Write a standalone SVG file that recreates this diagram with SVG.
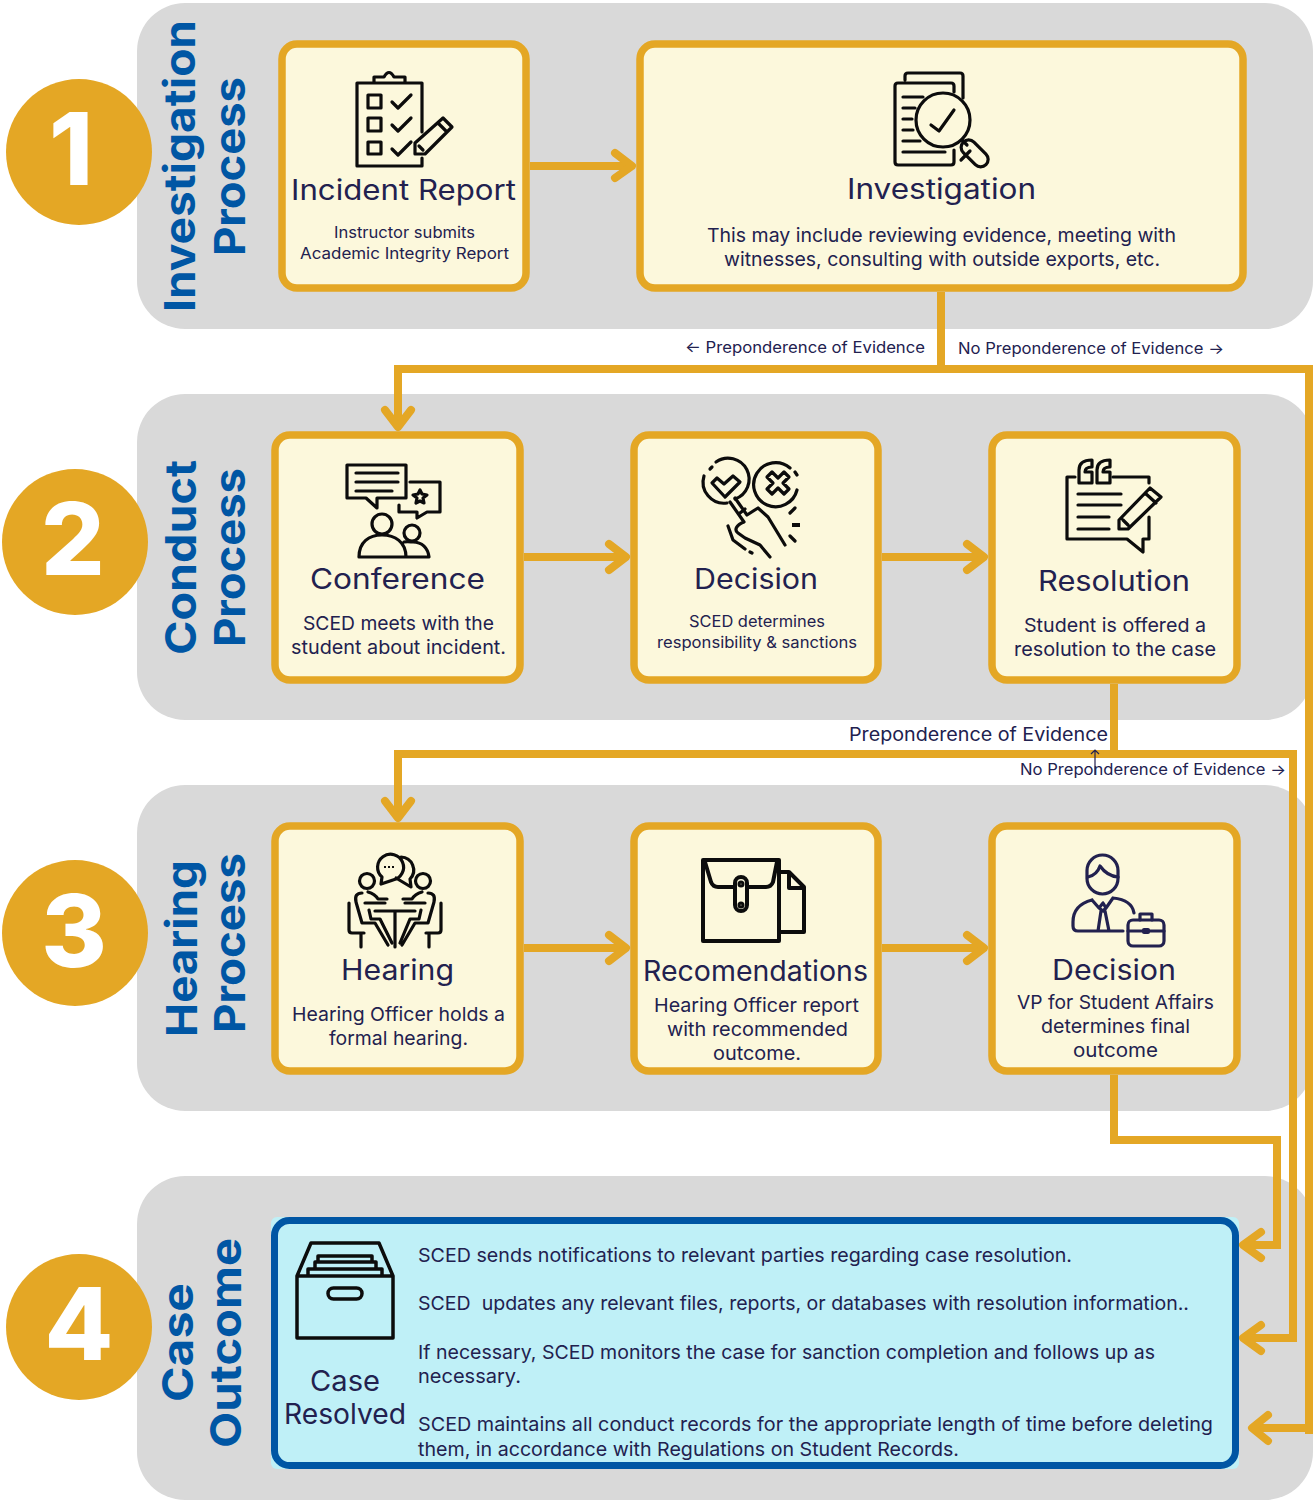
<svg xmlns="http://www.w3.org/2000/svg" width="1313" height="1500" viewBox="0 0 1313 1500">
<style>
text{font-family:Inter,"Open Sans","DejaVu Sans",sans-serif;fill:#22214f}
.t{font-size:28px;font-weight:400}
.s{font-size:16px}
.b{font-size:19px}
.l{font-size:15.5px}
.h{font-size:43px;font-weight:700;fill:#0056a4}
.d{font-size:100px;font-weight:800;fill:#fff;text-anchor:middle}
.panel{fill:#d9d9d9}
.c{fill:#e4a725}
.box{fill:#fcf8dc;stroke:#e4a725;stroke-width:7.5}
.wire{fill:none;stroke:#e4a725;stroke-width:8;stroke-linejoin:miter}
.head{fill:none;stroke:#e4a725;stroke-width:8;stroke-linecap:round;stroke-linejoin:round}
.i{fill:none;stroke:#0c0c0c;stroke-width:3.2;stroke-linejoin:round;stroke-linecap:round}
.n{fill:none;stroke:#22214f;stroke-width:3.2;stroke-linejoin:round;stroke-linecap:round}
.thin{fill:none;stroke:#22214f;stroke-width:1.2}
</style>
<g id="panels">
<rect class="panel" x="137" y="3" width="1176" height="326" rx="48"/>
<rect class="panel" x="137" y="394" width="1176" height="326" rx="48"/>
<rect class="panel" x="137" y="785" width="1176" height="326" rx="48"/>
<rect class="panel" x="137" y="1176" width="1176" height="324" rx="48"/>
</g>
<g id="step-1"><circle class="c" cx="79" cy="152" r="73"/><text class="d" x="71" y="185">1</text>
<text class="h" transform="translate(195,312) rotate(-90)" textLength="292" lengthAdjust="spacingAndGlyphs">Investigation</text>
<text class="h" transform="translate(245,256) rotate(-90)" textLength="179" lengthAdjust="spacingAndGlyphs">Process</text></g>
<g id="step-2"><circle class="c" cx="75" cy="542" r="73"/><text class="d" x="73" y="575">2</text>
<text class="h" transform="translate(196,655) rotate(-90)" textLength="195" lengthAdjust="spacingAndGlyphs">Conduct</text>
<text class="h" transform="translate(245,647) rotate(-90)" textLength="179" lengthAdjust="spacingAndGlyphs">Process</text></g>
<g id="step-3"><circle class="c" cx="75" cy="933" r="73"/><text class="d" x="74" y="967">3</text>
<text class="h" transform="translate(197,1037) rotate(-90)" textLength="177" lengthAdjust="spacingAndGlyphs">Hearing</text>
<text class="h" transform="translate(245,1033) rotate(-90)" textLength="180" lengthAdjust="spacingAndGlyphs">Process</text></g>
<g id="step-4"><circle class="c" cx="79" cy="1327" r="73"/><text class="d" x="79" y="1360">4</text>
<text class="h" transform="translate(193,1402) rotate(-90)" textLength="119" lengthAdjust="spacingAndGlyphs">Case</text>
<text class="h" transform="translate(241,1448) rotate(-90)" textLength="210" lengthAdjust="spacingAndGlyphs">Outcome</text></g>

<g id="connectors">
<path class="wire" d="M530 166H632"/><path class="head" d="M615 153L632 166L615 178"/>
<path class="wire" d="M941 292V369"/>
<path class="wire" d="M398 427V369H1309V1434"/><path class="head" d="M385 410L398 427L411 410"/>
<path class="wire" d="M524 557H626"/><path class="head" d="M609 544L626 557L609 570"/>
<path class="wire" d="M882 557H984"/><path class="head" d="M967 544L984 557L967 570"/>
<path class="wire" d="M1114 684V754"/>
<path class="wire" d="M398 818V754H1293V1338H1243"/><path class="head" d="M385 801L398 818L411 801"/>
<path class="head" d="M1261 1325L1243 1338L1261 1351"/>
<path class="wire" d="M524 948H626"/><path class="head" d="M609 935L626 948L609 961"/>
<path class="wire" d="M882 948H984"/><path class="head" d="M967 935L984 948L967 961"/>
<path class="wire" d="M1114 1075V1140H1277V1245H1243"/><path class="head" d="M1261 1232L1243 1245L1261 1258"/>
<path class="wire" d="M1309 1428H1253"/><path class="head" d="M1268 1415L1252 1428L1268 1441"/>
<path class="thin" d="M1095 775V750M1091 754L1095 750L1099 754"/>
<text class="l" x="685" y="353" textLength="240" lengthAdjust="spacingAndGlyphs">← Preponderence of Evidence</text>
<text class="l" x="958" y="354" textLength="266" lengthAdjust="spacingAndGlyphs">No Preponderence of Evidence →</text>
<text x="849" y="741" style="font-size:18.5px" textLength="259" lengthAdjust="spacingAndGlyphs">Preponderence of Evidence</text>
<text class="l" x="1020" y="775" textLength="266" lengthAdjust="spacingAndGlyphs">No Preponderence of Evidence →</text>
</g>

<g id="incident-report"><rect class="box" x="282" y="44" width="244" height="244" rx="15"/>
<path class="i" d="M374 83H357V166H422V158M422 132V83H405M374 83V77H384Q389 68 394 77H405V83ZM374 83H405"/>
<path class="i" d="M368 95h13v13h-13zM368 118h13v13h-13zM368 142h13v12h-13zM392 102l6 6l13-13M392 125l6 6l13-13M392 149l6 6l13-13"/>
<path class="i" d="M415 154V143L443 118L452 127L425 154ZM438 123L447 132M419 146L423 150"/>
<text class="t" x="291" y="200" textLength="225" lengthAdjust="spacingAndGlyphs">Incident Report</text>
<text class="s" x="334" y="238" textLength="141" lengthAdjust="spacingAndGlyphs">Instructor submits</text>
<text class="s" x="300" y="259" textLength="209" lengthAdjust="spacingAndGlyphs">Academic Integrity Report</text></g>

<g id="investigation"><rect class="box" x="640" y="44" width="603" height="244" rx="15"/>
<path class="i" d="M905 80V76Q905 73 908 73H960Q963 73 963 76V98M916 83H898Q895 83 895 86V162Q895 165 898 165H951Q954 165 954 162V150M954 92V86Q954 83 951 83H916"/>
<path class="i" d="M903 97H923M903 108H915M903 119H912M903 130H913M903 141H920M903 152H945"/>
<circle class="i" cx="943" cy="120" r="27"/><path class="i" d="M931 125L939 131L954 110M962 140L967 145"/>
<rect class="i" x="959" y="146" width="32" height="15" rx="7.5" transform="rotate(45 975 153)"/><path class="i" d="M970 151L961 160"/>
<text class="t" x="847" y="199" textLength="189" lengthAdjust="spacingAndGlyphs">Investigation</text>
<text class="b" x="707" y="242" textLength="469" lengthAdjust="spacingAndGlyphs">This may include reviewing evidence, meeting with</text>
<text class="b" x="724" y="266" textLength="436" lengthAdjust="spacingAndGlyphs">witnesses, consulting with outside exports, etc.</text></g>

<g id="conference"><rect class="box" x="275" y="435" width="245" height="245" rx="15"/>
<path class="i" d="M347 465H406V498H377V508L366 498H347ZM356 473H398M356 482H398M356 491H392"/>
<path class="i" d="M410 482H440V512H427L417 518V512H399V505"/>
<path class="i" d="M420 490L422 494L427 495L423 498L424 503L420 501L416 503L417 498L413 495L418 494Z"/>
<circle class="i" cx="382" cy="524" r="10"/><circle class="i" cx="412" cy="533" r="8"/>
<path class="i" d="M359 557H429M359 557C359 542 369 535 382 535C395 535 406 542 406 557M404 542C408 541 411 542 413 542C422 542 428 548 429 557"/>
<text class="t" x="310" y="589" textLength="175" lengthAdjust="spacingAndGlyphs">Conference</text>
<text class="b" x="303" y="630" textLength="191" lengthAdjust="spacingAndGlyphs">SCED meets with the</text>
<text class="b" x="291" y="654" textLength="215" lengthAdjust="spacingAndGlyphs">student about incident.</text></g>

<g id="decision-1"><rect class="box" x="634" y="435" width="244" height="245" rx="15"/>
<path class="i" d="M716 462A21 21 0 1 1 735 499M727 503A21 21 0 0 1 704 476M710 469L712 467"/>
<path class="i" d="M712 483L717 478L724 484L733 476L740 482L725 497Z"/>
<path class="i" d="M797 490A22 22 0 1 1 790 468M795 472L797 475"/>
<path class="i" d="M772 472L778 478L784 472L789 477L783 483L789 489L784 494L778 488L772 494L767 489L773 483L767 477Z"/>
<path class="i" d="M735 498L747 515L758 508L768 517L785 545M730 502L744 522C736 525 734 530 738 533L745 538L760 545L770 557M728 526L733 540L745 549M750 552L752 553M795 508L790 513M790 536L795 541M740 513L745 509"/>
<path d="M792 523H800V527H792Z" fill="#0c0c0c"/>
<text class="t" x="694" y="589" textLength="124" lengthAdjust="spacingAndGlyphs">Decision</text>
<text class="s" x="689" y="627" textLength="136" lengthAdjust="spacingAndGlyphs">SCED determines</text>
<text class="s" x="657" y="648" textLength="200" lengthAdjust="spacingAndGlyphs">responsibility &amp; sanctions</text></g>

<g id="resolution"><rect class="box" x="992" y="435" width="245" height="245" rx="15"/>
<path class="i" d="M1075 477H1067V539H1127L1143 552V539H1149V517M1113 477H1149V483"/>
<path class="i" d="M1092 460V467Q1085 467 1085 472H1092V483H1079V470Q1079 460 1092 460ZM1110 460V467Q1103 467 1103 472H1110V483H1097V470Q1097 460 1110 460Z"/>
<path class="i" d="M1078 494H1121M1078 505H1121M1078 517H1109M1078 529H1109"/>
<path class="i" d="M1119 529V520L1150 488L1161 497L1128 529ZM1145 493L1156 503M1123 520L1128 525"/>
<text class="t" x="1038" y="591" textLength="152" lengthAdjust="spacingAndGlyphs">Resolution</text>
<text class="b" x="1024" y="632" textLength="182" lengthAdjust="spacingAndGlyphs">Student is offered a</text>
<text class="b" x="1014" y="656" textLength="202" lengthAdjust="spacingAndGlyphs">resolution to the case</text></g>

<g id="hearing"><rect class="box" x="275" y="826" width="245" height="245" rx="15"/>
<circle class="i" cx="367" cy="881" r="7.5"/><circle class="i" cx="423" cy="881" r="7.5"/>
<path class="i" d="M381 884L382 877A13 13 0 1 1 393 880ZM401 857A13 13 0 0 1 410 879L411 887L396 878"/>
<path d="M384 866h2v2h-2zM388 866h2v2h-2zM392 866h2v2h-2z" fill="#0c0c0c"/>
<path class="i" d="M375 911H415M395 911V947M365 903H385M405 903H425"/>
<path class="i" d="M349 903V930Q349 933 352 933H364M361 933V947M362 893Q354 893 356 902L362 923H375L388 945M368 892Q375 894 378 899H387M369 910L371 919H380L392 943"/>
<path class="i" d="M441 903V930Q441 933 438 933H426M429 933V947M428 893Q436 893 434 902L428 923H415L402 945M422 892Q415 894 412 899H403M421 910L419 919H410L400 943"/>
<text class="t" x="341" y="980" textLength="113" lengthAdjust="spacingAndGlyphs">Hearing</text>
<text class="b" x="292" y="1021" textLength="213" lengthAdjust="spacingAndGlyphs">Hearing Officer holds a</text>
<text class="b" x="329" y="1045" textLength="139" lengthAdjust="spacingAndGlyphs">formal hearing.</text></g>

<g id="recomendations"><rect class="box" x="634" y="826" width="244" height="245" rx="15"/>
<g class="i" style="stroke-width:4"><path d="M703 860H779V941H703ZM705 862L711 882Q713 887 718 887H766Q771 887 773 882L777 862"/>
<rect x="735" y="877" width="12" height="34" rx="6" fill="#fcf8dc"/><circle cx="741" cy="884" r="1.5"/><circle cx="741" cy="905" r="1.5"/>
<path d="M781 872H789L804 887V932H781M789 873V888H803"/></g>
<text class="t" x="643" y="981" textLength="225" lengthAdjust="spacingAndGlyphs">Recomendations</text>
<text class="b" x="654" y="1012" textLength="205" lengthAdjust="spacingAndGlyphs">Hearing Officer report</text>
<text class="b" x="667" y="1036" textLength="181" lengthAdjust="spacingAndGlyphs">with recommended</text>
<text class="b" x="713" y="1060" textLength="88" lengthAdjust="spacingAndGlyphs">outcome.</text></g>

<g id="decision-2"><rect class="box" x="992" y="826" width="245" height="245" rx="15"/>
<rect class="n" x="1087" y="855" width="31" height="39" rx="15.5"/>
<path class="n" d="M1088 877Q1097 875 1100 866Q1107 876 1118 877M1092 900Q1073 905 1073 922V926Q1073 931 1078 931H1123M1113 898Q1132 900 1134 913M1092 900L1099 908L1103 903M1113 898L1106 908L1103 903M1099 908L1103 911L1106 908M1101 911L1098 931M1105 911L1109 931"/>
<rect class="n" x="1128" y="920" width="36" height="26" rx="5"/>
<path class="n" d="M1140 920V914H1152V920M1128 931H1164"/><rect x="1142" y="928" width="8" height="6" rx="2" fill="#22214f"/>
<text class="t" x="1052" y="980" textLength="124" lengthAdjust="spacingAndGlyphs">Decision</text>
<text class="b" x="1017" y="1009" textLength="197" lengthAdjust="spacingAndGlyphs">VP for Student Affairs</text>
<text class="b" x="1041" y="1033" textLength="149" lengthAdjust="spacingAndGlyphs">determines final</text>
<text class="b" x="1073" y="1057" textLength="85" lengthAdjust="spacingAndGlyphs">outcome</text></g>

<g id="case-resolved"><rect x="271" y="1217" width="968" height="252" rx="6" fill="#bff0f7"/>
<rect x="274.500" y="1220.500" width="961" height="245" rx="15" fill="none" stroke="#0056a4" stroke-width="7"/>
<g class="i" style="stroke-width:3.500"><path d="M297 1276H393V1338H297ZM297 1276L311 1243H379L393 1276M308 1276V1269H382V1276M315 1269V1262H376V1269M318 1262V1256H372V1262"/><rect x="328" y="1288" width="34" height="11" rx="5.500"/></g>
<text class="t" x="310" y="1391" textLength="70" lengthAdjust="spacingAndGlyphs">Case</text>
<text class="t" x="284" y="1424" textLength="122" lengthAdjust="spacingAndGlyphs">Resolved</text>
<text class="b" x="418" y="1262" textLength="654" lengthAdjust="spacingAndGlyphs">SCED sends notifications to relevant parties regarding case resolution.</text>
<text class="b" x="418" y="1310" textLength="771" lengthAdjust="spacingAndGlyphs" xml:space="preserve">SCED  updates any relevant files, reports, or databases with resolution information..</text>
<text class="b" x="418" y="1359" textLength="737" lengthAdjust="spacingAndGlyphs">If necessary, SCED monitors the case for sanction completion and follows up as</text>
<text class="b" x="418" y="1383" textLength="103" lengthAdjust="spacingAndGlyphs">necessary.</text>
<text class="b" x="418" y="1431" textLength="795" lengthAdjust="spacingAndGlyphs">SCED maintains all conduct records for the appropriate length of time before deleting</text>
<text class="b" x="418" y="1456" textLength="541" lengthAdjust="spacingAndGlyphs">them, in accordance with Regulations on Student Records.</text></g>
</svg>
